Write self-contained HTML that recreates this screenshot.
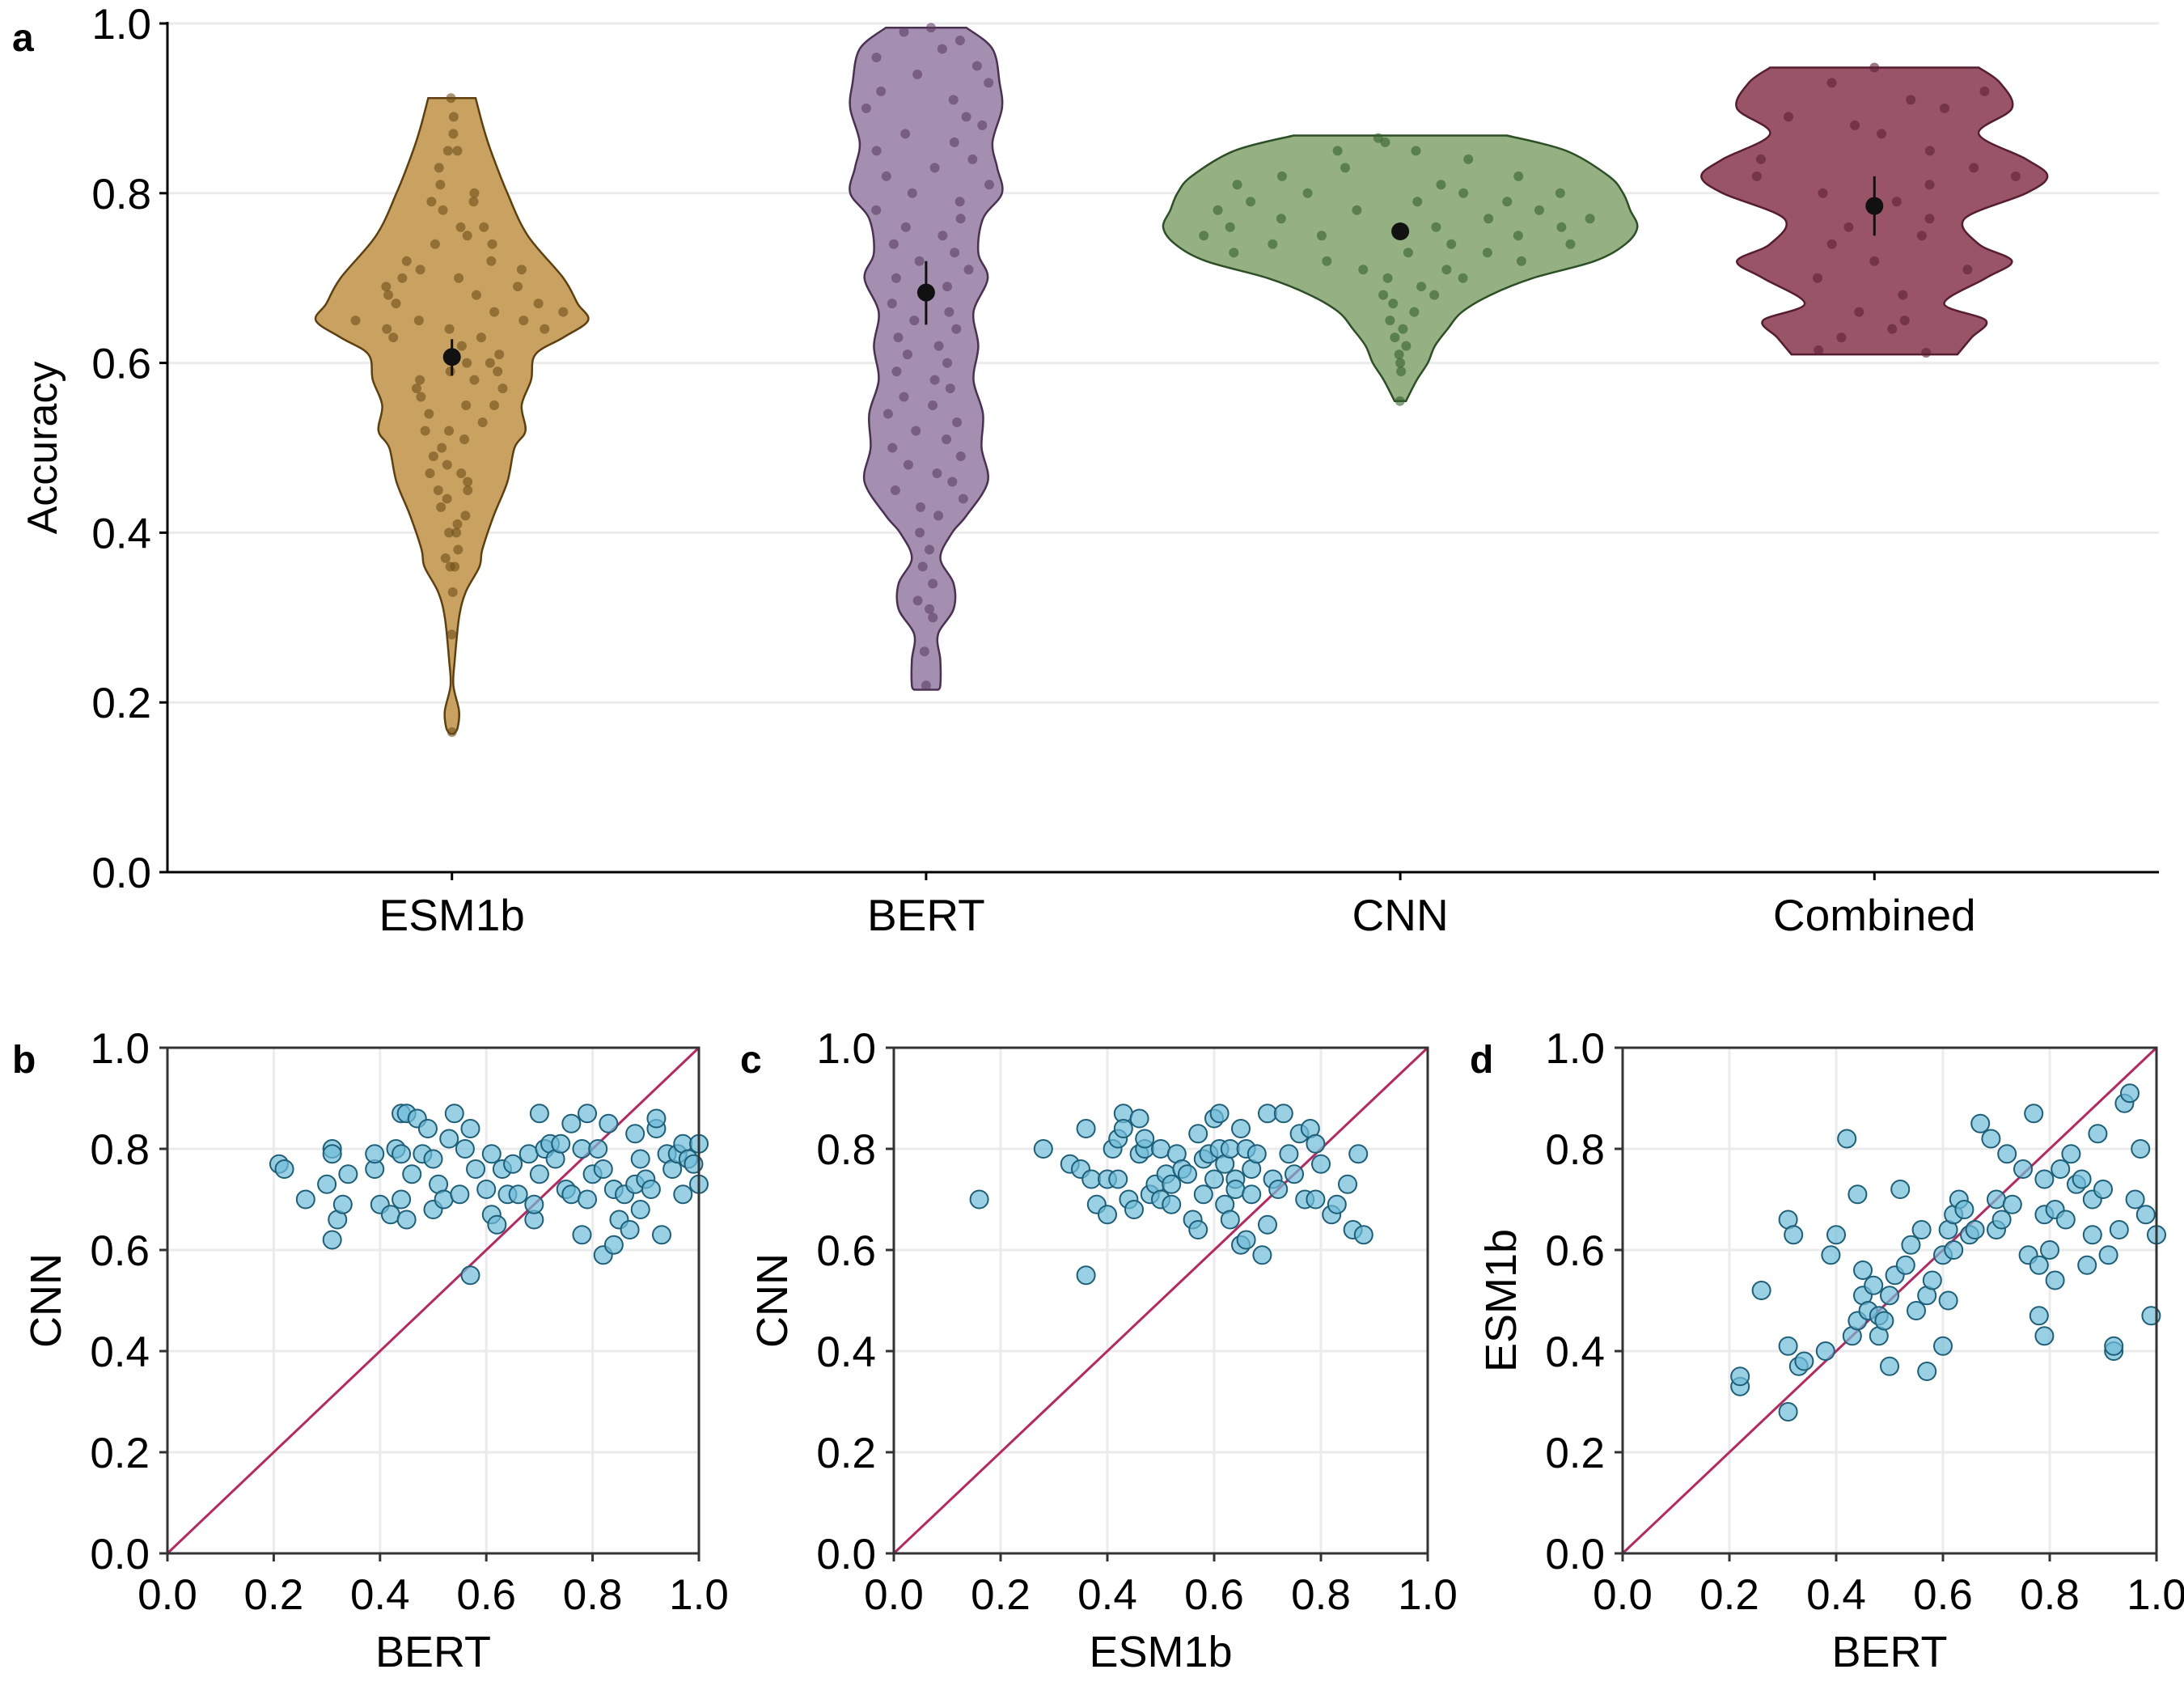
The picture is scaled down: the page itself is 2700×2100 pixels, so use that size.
<!DOCTYPE html>
<html><head><meta charset="utf-8"><style>
html,body{margin:0;padding:0;background:#fff;}
svg{display:block;font-family:"Liberation Sans",sans-serif;}
</style></head><body>
<svg id="fig" width="2700" height="2100" viewBox="0 0 2700 2100" xmlns="http://www.w3.org/2000/svg"></svg>
<script>
// ---------- DATA ----------
const categories = ["ESM1b","BERT","CNN","Combined"];
const yTicksA = [0.0,0.2,0.4,0.6,0.8,1.0];
const tickLabelsA = ["0.0","0.2","0.4","0.6","0.8","1.0"];
const tickVals = [0.0,0.2,0.4,0.6,0.8,1.0];
const tickLabels = ["0.0","0.2","0.4","0.6","0.8","1.0"];
const means = [0.607,0.683,0.755,0.785];
const errLow = [0.585,0.645,0.745,0.75];
const errHigh = [0.628,0.72,0.765,0.82];
const esmLevels = [0.912,0.88,0.85,0.80,0.75,0.70,0.67,0.65,0.63,0.61,0.58,0.55,0.52,0.50,0.46,0.42,0.38,0.36,0.33,0.30,0.25,0.22,0.19,0.17,0.163];
const esmWidths = [0.05,0.065,0.082,0.117,0.16,0.235,0.265,0.287,0.235,0.176,0.167,0.147,0.155,0.132,0.117,0.088,0.064,0.058,0.029,0.015,0.006,0.003,0.015,0.012,0.004];
const bertLevels = [0.995,0.97,0.93,0.90,0.86,0.83,0.80,0.77,0.73,0.70,0.66,0.62,0.58,0.54,0.50,0.46,0.42,0.40,0.37,0.34,0.31,0.28,0.25,0.22,0.215];
const bertWidths = [0.085,0.14,0.155,0.16,0.14,0.15,0.16,0.12,0.11,0.13,0.10,0.11,0.10,0.12,0.117,0.13,0.085,0.055,0.03,0.058,0.058,0.025,0.03,0.03,0.025];
const cnnLevels = [0.868,0.85,0.82,0.80,0.78,0.76,0.74,0.72,0.70,0.68,0.66,0.64,0.62,0.60,0.58,0.555];
const cnnWidths = [0.225,0.35,0.44,0.47,0.485,0.50,0.475,0.41,0.28,0.19,0.13,0.10,0.073,0.058,0.035,0.012];
const combLevels = [0.948,0.93,0.90,0.87,0.84,0.82,0.80,0.77,0.74,0.72,0.70,0.67,0.65,0.63,0.61];
const combWidths = [0.22,0.265,0.29,0.22,0.32,0.365,0.32,0.19,0.22,0.29,0.235,0.147,0.235,0.205,0.175];
const esmPts = [0.912,0.89,0.87,0.85,0.85,0.83,0.81,0.80,0.79,0.79,0.78,0.76,0.76,0.75,0.74,0.74,0.72,0.72,0.71,0.71,0.70,0.70,0.69,0.69,0.68,0.68,0.67,0.67,0.66,0.66,0.65,0.65,0.65,0.64,0.64,0.64,0.63,0.63,0.62,0.61,0.60,0.60,0.59,0.59,0.58,0.58,0.57,0.57,0.56,0.55,0.55,0.54,0.53,0.52,0.52,0.51,0.50,0.49,0.48,0.47,0.47,0.46,0.45,0.45,0.44,0.43,0.42,0.41,0.40,0.40,0.38,0.37,0.36,0.36,0.33,0.28,0.165];
const esmJit = [-0.02,0.03,0.02,-0.05,0.07,-0.14,-0.11,0.2,-0.17,0.18,-0.07,0.22,0.06,0.1,0.24,-0.1,-0.23,0.2,-0.15,0.33,0.03,-0.22,-0.28,0.28,0.1,-0.26,0.34,-0.22,0.42,0.16,-0.35,0.26,-0.12,-0.01,0.37,-0.26,0.13,-0.26,0.05,0.28,0.09,0.23,-0.01,0.28,-0.2,0.14,-0.23,0.33,-0.21,0.3,0.1,-0.16,0.21,-0.02,-0.18,0.09,-0.08,-0.15,-0.04,0.08,-0.19,0.14,-0.13,0.15,-0.05,-0.12,0.16,0.07,-0.04,0.06,0.1,-0.11,0.05,-0.03,0.03,-0.02,0.0];
const bertPts = [0.995,0.99,0.98,0.97,0.96,0.95,0.94,0.93,0.92,0.91,0.90,0.89,0.88,0.87,0.86,0.85,0.84,0.83,0.82,0.81,0.80,0.79,0.78,0.77,0.76,0.75,0.74,0.73,0.72,0.71,0.70,0.69,0.68,0.67,0.66,0.65,0.64,0.63,0.62,0.61,0.60,0.59,0.58,0.57,0.56,0.55,0.54,0.53,0.52,0.51,0.50,0.49,0.48,0.47,0.46,0.45,0.44,0.43,0.42,0.40,0.38,0.36,0.34,0.32,0.31,0.30,0.26,0.22];
const bertJit = [0.02,-0.08,0.1,0.04,-0.12,0.12,-0.02,0.14,-0.1,0.06,-0.13,0.09,0.13,-0.05,0.07,-0.12,0.11,0.02,-0.09,0.14,-0.03,0.08,-0.13,0.1,-0.06,0.05,-0.1,0.09,-0.02,0.12,-0.08,0.06,0.0,-0.11,0.08,-0.04,0.1,-0.09,0.04,-0.06,0.07,-0.1,0.03,0.08,-0.07,0.02,-0.11,0.09,-0.03,0.06,-0.1,0.1,-0.05,0.03,0.07,-0.09,0.12,-0.02,0.05,-0.04,0.03,-0.03,0.04,-0.05,0.02,0.05,-0.02,0.0];
const cnnPts = [0.865,0.86,0.85,0.85,0.84,0.83,0.82,0.82,0.81,0.81,0.80,0.80,0.80,0.79,0.79,0.79,0.78,0.78,0.78,0.77,0.77,0.77,0.76,0.76,0.76,0.75,0.75,0.75,0.74,0.74,0.74,0.73,0.73,0.73,0.72,0.72,0.71,0.71,0.70,0.70,0.69,0.68,0.68,0.67,0.66,0.65,0.64,0.63,0.62,0.61,0.60,0.59,0.555];
const cnnJit = [-0.1,-0.06,0.05,-0.2,0.2,-0.15,0.3,-0.3,0.1,-0.4,-0.22,0.15,0.38,-0.35,0.04,0.25,-0.42,-0.1,0.32,0.2,-0.27,0.43,-0.38,0.08,0.36,-0.18,0.27,-0.45,0.12,-0.3,0.4,-0.42,0.02,0.22,-0.2,0.33,-0.12,0.15,-0.05,0.25,0.1,-0.1,0.2,-0.05,0.12,-0.1,0.03,-0.07,0.09,-0.02,0.0,0.02,-0.03];
const combPts = [0.948,0.93,0.92,0.91,0.90,0.89,0.88,0.87,0.85,0.84,0.83,0.82,0.82,0.81,0.80,0.79,0.77,0.76,0.75,0.74,0.72,0.71,0.70,0.68,0.66,0.65,0.64,0.63,0.615,0.612];
const combJit = [0.0,-0.1,0.25,0.08,0.15,-0.2,-0.05,0.02,0.12,-0.22,0.18,-0.2,0.24,0.1,-0.1,0.05,0.18,-0.08,0.14,-0.12,0.0,0.22,-0.15,0.1,-0.05,0.08,0.05,-0.1,-0.19,0.18];
const bX = [0.21,0.22,0.26,0.30,0.31,0.31,0.31,0.32,0.33,0.34,0.39,0.39,0.40,0.42,0.43,0.44,0.44,0.44,0.45,0.45,0.46,0.47,0.48,0.49,0.50,0.50,0.51,0.52,0.53,0.54,0.55,0.56,0.57,0.57,0.58,0.60,0.61,0.61,0.62,0.63,0.64,0.65,0.66,0.68,0.69,0.69,0.70,0.70,0.71,0.72,0.73,0.74,0.75,0.76,0.76,0.78,0.78,0.79,0.79,0.80,0.81,0.82,0.82,0.83,0.84,0.84,0.85,0.86,0.87,0.88,0.88,0.89,0.89,0.90,0.91,0.92,0.92,0.93,0.94,0.95,0.96,0.97,0.97,0.98,0.99,1.00,1.00];
const bY = [0.77,0.76,0.70,0.73,0.80,0.79,0.62,0.66,0.69,0.75,0.76,0.79,0.69,0.67,0.80,0.79,0.70,0.87,0.87,0.66,0.75,0.86,0.79,0.84,0.78,0.68,0.73,0.70,0.82,0.87,0.71,0.80,0.84,0.55,0.76,0.72,0.79,0.67,0.65,0.76,0.71,0.77,0.71,0.79,0.66,0.69,0.75,0.87,0.80,0.81,0.78,0.81,0.72,0.71,0.85,0.80,0.63,0.70,0.87,0.75,0.80,0.59,0.76,0.85,0.61,0.72,0.66,0.71,0.64,0.73,0.83,0.78,0.68,0.74,0.72,0.84,0.86,0.63,0.79,0.76,0.79,0.71,0.81,0.78,0.77,0.73,0.81];
const cX = [0.16,0.28,0.33,0.35,0.36,0.36,0.37,0.38,0.40,0.40,0.41,0.42,0.42,0.43,0.43,0.44,0.45,0.46,0.46,0.47,0.47,0.48,0.49,0.50,0.50,0.51,0.52,0.52,0.53,0.54,0.55,0.56,0.57,0.57,0.58,0.58,0.59,0.60,0.60,0.61,0.61,0.62,0.62,0.63,0.63,0.64,0.64,0.65,0.65,0.66,0.66,0.67,0.67,0.68,0.69,0.70,0.70,0.71,0.72,0.73,0.74,0.75,0.76,0.77,0.78,0.79,0.79,0.80,0.82,0.83,0.85,0.86,0.87,0.88];
const cY = [0.70,0.80,0.77,0.76,0.84,0.55,0.74,0.69,0.74,0.67,0.80,0.82,0.74,0.87,0.84,0.70,0.68,0.86,0.79,0.80,0.82,0.71,0.73,0.80,0.70,0.75,0.73,0.69,0.79,0.76,0.75,0.66,0.83,0.64,0.78,0.71,0.79,0.86,0.74,0.87,0.80,0.77,0.69,0.80,0.66,0.74,0.72,0.84,0.61,0.80,0.62,0.76,0.71,0.79,0.59,0.87,0.65,0.74,0.72,0.87,0.79,0.75,0.83,0.70,0.84,0.81,0.70,0.77,0.67,0.69,0.73,0.64,0.79,0.63];
const dX = [0.22,0.22,0.26,0.31,0.31,0.31,0.32,0.33,0.34,0.38,0.39,0.40,0.42,0.43,0.44,0.44,0.45,0.45,0.46,0.47,0.48,0.48,0.49,0.50,0.50,0.51,0.52,0.53,0.54,0.55,0.56,0.57,0.57,0.58,0.60,0.60,0.61,0.61,0.62,0.62,0.63,0.64,0.65,0.66,0.67,0.69,0.70,0.70,0.71,0.72,0.73,0.75,0.76,0.77,0.78,0.78,0.79,0.79,0.79,0.80,0.81,0.81,0.82,0.83,0.84,0.85,0.86,0.87,0.88,0.88,0.89,0.90,0.91,0.92,0.92,0.93,0.94,0.95,0.96,0.97,0.98,0.99,1.00];
const dY = [0.33,0.35,0.52,0.28,0.41,0.66,0.63,0.37,0.38,0.40,0.59,0.63,0.82,0.43,0.46,0.71,0.51,0.56,0.48,0.53,0.47,0.43,0.46,0.37,0.51,0.55,0.72,0.57,0.61,0.48,0.64,0.51,0.36,0.54,0.59,0.41,0.50,0.64,0.67,0.60,0.70,0.68,0.63,0.64,0.85,0.82,0.70,0.64,0.66,0.79,0.69,0.76,0.59,0.87,0.57,0.47,0.43,0.67,0.74,0.60,0.68,0.54,0.76,0.66,0.79,0.73,0.74,0.57,0.63,0.70,0.83,0.72,0.59,0.40,0.41,0.64,0.89,0.91,0.70,0.80,0.67,0.47,0.63];

// ---------- DRAW ----------
const NS = "http://www.w3.org/2000/svg";
const svg = document.getElementById('fig');
function mk(tag, attrs, parent){
  const e = document.createElementNS(NS, tag);
  for (const k in attrs) e.setAttribute(k, attrs[k]);
  (parent||svg).appendChild(e);
  return e;
}
const A = {x0:207, x1:2669, y0:1078, y1:29};
const unit = (A.x1-A.x0)/4.2;
const xCat = i => A.x0 + (0.6 + i)*unit;
const yA = v => A.y0 - v*(A.y0-A.y1);

const pa = mk('g',{});


yTicksA.forEach((t,i)=>{
  if (t>0){ const g = mk('line',{x1:A.x0,x2:A.x1,y1:yA(t),y2:yA(t),stroke:'#ebebeb','stroke-width':3},pa);
      }
  const tk = mk('line',{x1:A.x0-10,x2:A.x0,y1:yA(t),y2:yA(t),stroke:'#000','stroke-width':3},pa);
   
  const tl = mk('text',{x:A.x0-20,y:yA(t)+19,'text-anchor':'end','font-size':53,fill:'#000'},pa);
  tl.textContent = tickLabelsA[i];
   
});

const violins = [
  {lv:esmLevels,w:esmWidths,pts:esmPts,jit:esmJit,fill:'#c9a262',stroke:'#5e4010',dot:'#6e4f18'},
  {lv:bertLevels,w:bertWidths,pts:bertPts,jit:bertJit,fill:'#a58fb0',stroke:'#4a3052',dot:'#5a3e62'},
  {lv:cnnLevels,w:cnnWidths,pts:cnnPts,jit:cnnJit,fill:'#95b083',stroke:'#2d4f26',dot:'#36602e'},
  {lv:combLevels,w:combWidths,pts:combPts,jit:combJit,fill:'#995468',stroke:'#561d30',dot:'#5e2034'}
];
function localWidth(v, y){
  const L=v.lv, W=v.w;
  if (y>=L[0]) return W[0];
  for (let k=0;k<L.length-1;k++){
    if (y<=L[k] && y>=L[k+1]){ const f=(L[k]-y)/(L[k]-L[k+1]); return W[k]+(W[k+1]-W[k])*f; }
  }
  return W[W.length-1];
}
function cr(p){
  let s = 'M'+p[0][0].toFixed(1)+','+p[0][1].toFixed(1);
  for (let k=0;k<p.length-1;k++){
    const p0=p[Math.max(k-1,0)],p1=p[k],p2=p[k+1],p3=p[Math.min(k+2,p.length-1)];
    const c1=[p1[0]+(p2[0]-p0[0])/6,p1[1]+(p2[1]-p0[1])/6];
    const c2=[p2[0]-(p3[0]-p1[0])/6,p2[1]-(p3[1]-p1[1])/6];
    s+='C'+c1[0].toFixed(1)+','+c1[1].toFixed(1)+' '+c2[0].toFixed(1)+','+c2[1].toFixed(1)+' '+p2[0].toFixed(1)+','+p2[1].toFixed(1);
  }
  return s;
}
violins.forEach((v,i)=>{
  const cx = xCat(i);
  const right = v.lv.map((l,k)=>[cx + v.w[k]*unit, yA(l)]);
  const left = v.lv.map((l,k)=>[cx - v.w[k]*unit, yA(l)]).reverse();
  const d = cr(right) + 'L' + cr(left).slice(1) + 'Z';
  const path = mk('path',{d:d,fill:v.fill,stroke:v.stroke,'stroke-width':2.5},pa);
  
  
  const jmax = Math.max(...v.jit.map(Math.abs));
  v.pts.forEach((p,k)=>{
    const lw = Math.min(0.85*localWidth(v,p), 0.45)*unit;
    const c = mk('circle',{cx:cx + (v.jit[k]/jmax)*lw, cy:yA(p), r:6, fill:v.dot,'fill-opacity':0.6},pa);
    
    
  });
  const eb = mk('line',{x1:cx,x2:cx,y1:yA(errLow[i]),y2:yA(errHigh[i]),stroke:'#111','stroke-width':3},pa);
   
  const m = mk('circle',{cx:cx,cy:yA(means[i]),r:11,fill:'#111'},pa);
   
  const tk = mk('line',{x1:cx,x2:cx,y1:A.y0,y2:A.y0+10,stroke:'#000','stroke-width':3},pa);
   
  const tl = mk('text',{x:cx,y:1150,'text-anchor':'middle','font-size':55,fill:'#000'},pa);
  tl.textContent = categories[i];
   
});
const axl = mk('path',{d:`M${A.x0},${A.y1-2}V${A.y0}H${A.x1}`,fill:'none',stroke:'#000','stroke-width':3},pa);
 
const yt = mk('text',{x:0,y:0,transform:`translate(70,${(A.y0+A.y1)/2}) rotate(-90)`,'text-anchor':'middle','font-size':52,fill:'#000'},pa);
yt.textContent='Accuracy';
 
const la = mk('text',{x:15,y:63,'font-size':48,'font-weight':'bold',fill:'#000'},pa);
la.textContent='a';
 

const scat = [
  {x0:207,x1:864,xs:bX,ys:bY,xt:'BERT',yt:'CNN',lab:'b',lx:15},
  {x0:1105,x1:1765,xs:cX,ys:cY,xt:'ESM1b',yt:'CNN',lab:'c',lx:915},
  {x0:2006,x1:2666,xs:dX,ys:dY,xt:'BERT',yt:'ESM1b',lab:'d',lx:1817}
];
const SY0=1920, SY1=1295;
scat.forEach(P=>{
  const g = mk('g',{});
  
  
  const sx = v => P.x0 + v*(P.x1-P.x0);
  const sy = v => SY0 - v*(SY0-SY1);
  tickVals.forEach((t,i)=>{
    if(t>0){
      const gv = mk('line',{x1:sx(t),x2:sx(t),y1:SY0,y2:SY1,stroke:'#ebebeb','stroke-width':3},g);
       
      const gh = mk('line',{x1:P.x0,x2:P.x1,y1:sy(t),y2:sy(t),stroke:'#ebebeb','stroke-width':3},g);
       
    }
    const tx = mk('line',{x1:sx(t),x2:sx(t),y1:SY0,y2:SY0+10,stroke:'#333','stroke-width':3},g);
     
    const ty = mk('line',{x1:P.x0-10,x2:P.x0,y1:sy(t),y2:sy(t),stroke:'#333','stroke-width':3},g);
     
    const lx = mk('text',{x:sx(t),y:1989,'text-anchor':'middle','font-size':53,fill:'#000'},g);
    lx.textContent = tickLabels[i];
     
    const ly = mk('text',{x:P.x0-22,y:sy(t)+19,'text-anchor':'end','font-size':53,fill:'#000'},g);
    ly.textContent = tickLabels[i];
     
  });
  const diag = mk('line',{x1:sx(0),y1:sy(0),x2:sx(1),y2:sy(1),stroke:'#b8285e','stroke-width':3},g);
   
  P.xs.forEach((x,k)=>{
    const c = mk('circle',{cx:sx(x),cy:sy(P.ys[k]),r:11,fill:'#6fbcd8','fill-opacity':0.7,stroke:'#1d5f78','stroke-width':2},g);
    
    
  });
  const box = mk('rect',{x:P.x0,y:SY1,width:P.x1-P.x0,height:SY0-SY1,fill:'none',stroke:'#333','stroke-width':3},g);
   
  const xt = mk('text',{x:(P.x0+P.x1)/2,y:2060,'text-anchor':'middle','font-size':54,fill:'#000'},g);
  xt.textContent = P.xt;
   
  const ytt = mk('text',{x:0,y:0,transform:`translate(${P.x0-132},${(SY0+SY1)/2}) rotate(-90)`,'text-anchor':'middle','font-size':54,fill:'#000'},g);
  ytt.textContent = P.yt;
   
  const lb = mk('text',{x:P.lx,y:1326,'font-size':48,'font-weight':'bold',fill:'#000'},g);
  lb.textContent = P.lab;
   
});
</script>
</body></html>
